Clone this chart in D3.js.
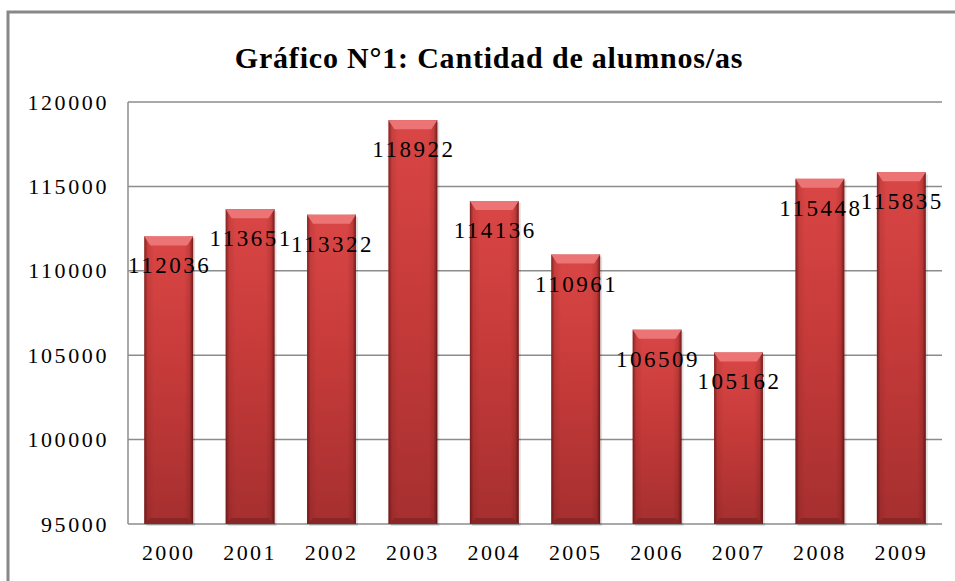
<!DOCTYPE html>
<html>
<head>
<meta charset="utf-8">
<script src="https://cdn.jsdelivr.net/npm/d3@7"></script>
<style>
  body { margin: 0; background: #fff; }
  svg text { font-family: 'Liberation Serif', 'DejaVu Serif', serif !important; }
</style>
</head>
<body>
<div class="chart"></div>
<script>
// data
var years = ["2000","2001","2002","2003","2004","2005","2006","2007","2008","2009"];
var alumnos = [112036, 113651, 113322, 118922, 114136, 110961, 106509, 105162, 115448, 115835];
var yTicks = [95000, 100000, 105000, 110000, 115000, 120000];

var W = 955, H = 581;
var margin = {top: 102, right: 13, bottom: 57, left: 128},
    width = W - margin.left - margin.right,
    height = H - margin.top - margin.bottom;
var serif = "'Liberation Serif', 'DejaVu Serif', serif";

var svg = d3.select(".chart").append("svg")
    .attr("width", W)
    .attr("height", H)
    .attr("font-family", serif);

// outer frame
svg.append("path")
    .attr("d", "M8," + H + "V12H" + W)
    .attr("fill", "none")
    .attr("stroke", "#888")
    .attr("stroke-width", 3);

// title
svg.append("text")
    .attr("x", 489)
    .attr("y", 68)
    .attr("text-anchor", "middle")
    .attr("font-family", serif)
    .style("font-size", "30px")
    .style("font-weight", "bold")
    .style("letter-spacing", "0.8px")
    .text("Gráfico N°1: Cantidad de alumnos/as");

var defs = svg.append("defs");

// vertical base colour: brighter at the top, darker at the bottom
var gv = defs.append("linearGradient").attr("id", "barV")
    .attr("x1", 0).attr("x2", 0).attr("y1", 0).attr("y2", 1);
gv.append("stop").attr("offset", "0%").attr("stop-color", "#d94645");
gv.append("stop").attr("offset", "45%").attr("stop-color", "#c63b3a");
gv.append("stop").attr("offset", "100%").attr("stop-color", "#a62f2f");

// darker edges
var gh = defs.append("linearGradient").attr("id", "barH")
    .attr("x1", 0).attr("x2", 1).attr("y1", 0).attr("y2", 0);
gh.append("stop").attr("offset", "0%").attr("stop-color", "#3a0606").attr("stop-opacity", 0.55);
gh.append("stop").attr("offset", "7%").attr("stop-color", "#3a0606").attr("stop-opacity", 0.1);
gh.append("stop").attr("offset", "20%").attr("stop-color", "#3a0606").attr("stop-opacity", 0);
gh.append("stop").attr("offset", "82%").attr("stop-color", "#3a0606").attr("stop-opacity", 0);
gh.append("stop").attr("offset", "93%").attr("stop-color", "#3a0606").attr("stop-opacity", 0.15);
gh.append("stop").attr("offset", "100%").attr("stop-color", "#3a0606").attr("stop-opacity", 0.65);

var g = svg.append("g")
    .attr("transform", "translate(" + margin.left + "," + margin.top + ")");

// scales
var x = d3.scaleBand().domain(years).range([0, width]).paddingInner(0.4).paddingOuter(0.2);
var y = d3.scaleLinear().domain([95000, 120000]).range([height, 0]);

// gridlines
g.append("g")
    .selectAll("line")
    .data(yTicks)
    .enter().append("line")
    .attr("x1", 0).attr("x2", width)
    .attr("y1", function(d) { return y(d); })
    .attr("y2", function(d) { return y(d); })
    .attr("stroke", "#8c8c8c")
    .attr("stroke-width", 1.5);

// left axis line
g.append("line")
    .attr("x1", 0).attr("x2", 0)
    .attr("y1", 0).attr("y2", height)
    .attr("stroke", "#8c8c8c")
    .attr("stroke-width", 1.5);

// y axis
var yAxis = d3.axisLeft(y).tickValues(yTicks).tickSize(0).tickPadding(19)
    .tickFormat(d3.format("d"));
g.append("g")
    .call(yAxis)
    .attr("font-family", serif)
    .attr("font-size", 22)
    .call(function(s) { s.select(".domain").remove(); })
    .selectAll("text")
    .attr("fill", "#000")
    .style("letter-spacing", "2.6px");

// x axis
var xAxis = d3.axisBottom(x).tickSize(0).tickPadding(20);
g.append("g")
    .attr("transform", "translate(0," + height + ")")
    .call(xAxis)
    .attr("font-family", serif)
    .attr("font-size", 22)
    .call(function(s) { s.select(".domain").remove(); })
    .selectAll("text")
    .attr("fill", "#000")
    .style("letter-spacing", "2.4px");

var bars = g.append("g").selectAll("g")
    .data(years)
    .enter().append("g");

// shadow
bars.append("rect")
    .attr("x", function(d) { return x(d) + 2; })
    .attr("y", function(d, i) { return y(alumnos[i]) + 2; })
    .attr("width", x.bandwidth())
    .attr("height", function(d, i) { return height - y(alumnos[i]); })
    .attr("fill", "#000")
    .attr("opacity", 0.12);

bars.append("rect")
    .attr("x", function(d) { return x(d); })
    .attr("y", function(d, i) { return y(alumnos[i]); })
    .attr("width", x.bandwidth())
    .attr("height", function(d, i) { return height - y(alumnos[i]); })
    .attr("fill", "url(#barV)");

bars.append("rect")
    .attr("x", function(d) { return x(d); })
    .attr("y", function(d, i) { return y(alumnos[i]); })
    .attr("width", x.bandwidth())
    .attr("height", function(d, i) { return height - y(alumnos[i]); })
    .attr("fill", "url(#barH)");

// top bevel
bars.append("path")
    .attr("d", function(d, i) {
        var x0 = x(d), x1 = x(d) + x.bandwidth(), t = y(alumnos[i]);
        return "M" + x0 + "," + t + "H" + x1 + "L" + (x1 - 6) + "," + (t + 9) +
            "H" + (x0 + 6) + "Z";
    })
    .attr("fill", "#ec7474");

// bottom bevel
bars.append("path")
    .attr("d", function(d) {
        var x0 = x(d), x1 = x(d) + x.bandwidth(), b = height;
        return "M" + x0 + "," + b + "H" + x1 + "L" + (x1 - 6) + "," + (b - 6) +
            "H" + (x0 + 6) + "Z";
    })
    .attr("fill", "#8a2626");

// value labels
bars.append("text")
    .attr("x", function(d) { return x(d) + x.bandwidth() / 2 + 1; })
    .attr("y", function(d, i) { return y(alumnos[i]) + 37; })
    .attr("text-anchor", "middle")
    .attr("font-family", serif)
    .style("font-size", "23px")
    .style("letter-spacing", "2.5px")
    .text(function(d, i) { return alumnos[i]; });
</script>
</body>
</html>
